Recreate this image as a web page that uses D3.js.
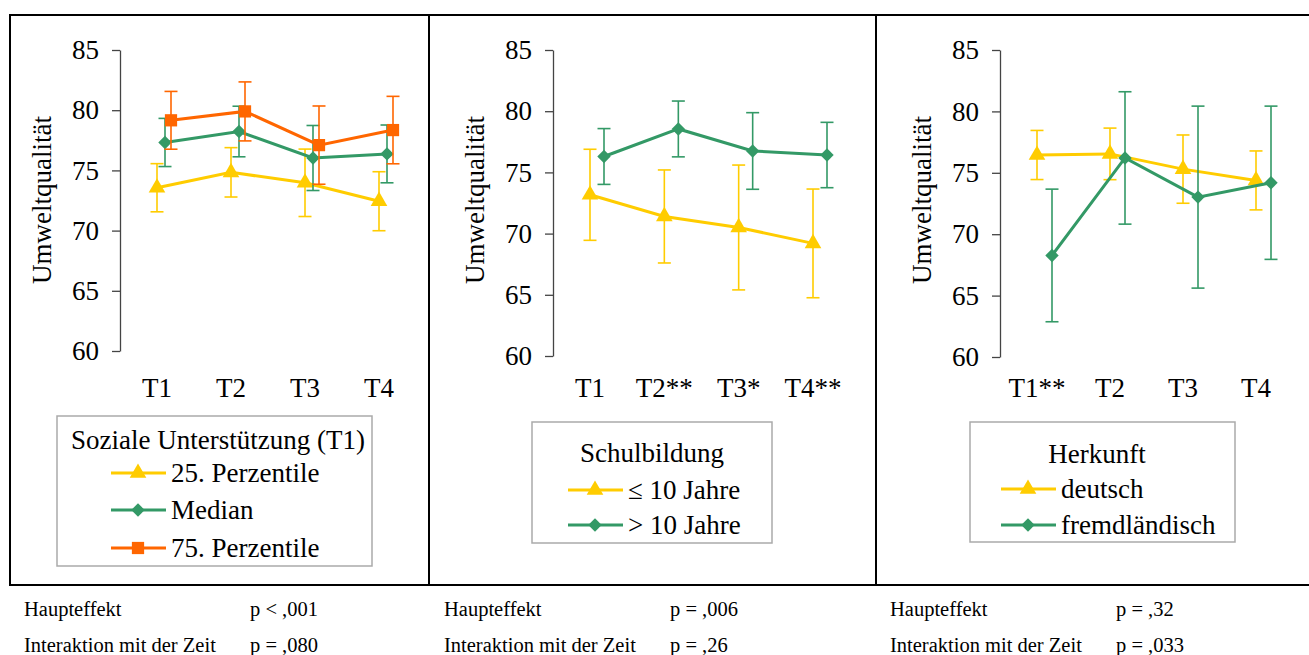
<!DOCTYPE html>
<html>
<head>
<meta charset="utf-8">
<script src="https://cdn.jsdelivr.net/npm/d3@7"></script>
<style>
  body { margin: 0; background: #fff; }
  svg { display: block; }
</style>
</head>
<body>
<svg id="svg-container" width="1309" height="655"></svg>
<script>
// values
const yTicks = [60, 65, 70, 75, 80, 85];

const catsSozial = ['T1', 'T2', 'T3', 'T4'];
const sozial25 = [73.56, 74.84, 73.97, 72.44];
const sozial25Err = [2.0, 2.05, 2.8, 2.45];
const sozialMedian = [77.32, 78.23, 76.03, 76.37];
const sozialMedianErr = [2.0, 2.1, 2.7, 2.4];
const sozial75 = [79.16, 79.9, 77.1, 78.35];
const sozial75Err = [2.4, 2.45, 3.25, 2.8];

const catsSchul = ['T1', 'T2**', 'T3*', 'T4**'];
const schulLow = [73.17, 71.4, 70.5, 69.2];
const schulLowErr = [3.72, 3.8, 5.1, 4.44];
const schulHigh = [76.3, 78.55, 76.75, 76.42];
const schulHighErr = [2.28, 2.28, 3.13, 2.67];

const catsHerkunft = ['T1**', 'T2', 'T3', 'T4'];
const herkDeutsch = [76.45, 76.54, 75.3, 74.38];
const herkDeutschErr = [2.0, 2.1, 2.78, 2.4];
const herkFremd = [68.27, 76.21, 73.02, 74.19];
const herkFremdErr = [5.4, 5.39, 7.41, 6.24];

const statsSozial = ['p < ,001', 'p = ,080'];
const statsSchul = ['p = ,006', 'p = ,26'];
const statsHerkunft = ['p = ,32', 'p = ,033'];

const YELLOW = '#ffcc00';
const GREEN = '#339966';
const ORANGE = '#ff6600';
const FONT = '"Liberation Serif", "Times New Roman", serif';

const svg = d3.select('#svg-container').attr('font-family', FONT);

const chartFuncs = {
  text(g, x, y, str, size) {
    return g.append('text')
      .attr('x', x).attr('y', y)
      .attr('font-family', FONT)
      .attr('font-size', size)
      .attr('fill', '#000')
      .text(str);
  },

  marker(g, type, x, y, color) {
    let sym, size, rot = 0;
    if (type === 'triangle') { sym = d3.symbolTriangle; size = 120; }
    else if (type === 'diamond') { sym = d3.symbolSquare; size = 90; rot = 45; }
    else { sym = d3.symbolSquare; size = 150; }
    g.append('path')
      .attr('d', d3.symbol().type(sym).size(size)())
      .attr('transform', `translate(${x},${y}) rotate(${rot})`)
      .attr('fill', color);
  },

  renderPanel(p) {
    const g = svg.append('g');
    const y = d3.scaleLinear().domain([60, 85]).range([p.yBottom, 50]);
    const x = d3.scalePoint().domain(p.cats).range(p.xRange);

    const axis = g.append('g')
      .attr('transform', `translate(${p.axisX},0)`)
      .call(d3.axisLeft(y).tickValues(yTicks).tickSize(8).tickPadding(13).tickSizeOuter(0));
    axis.attr('font-family', FONT);
    axis.select('.domain').attr('stroke', '#444').attr('stroke-width', 1.3);
    axis.selectAll('.tick line').attr('stroke', '#444').attr('stroke-width', 1.3);
    axis.selectAll('.tick text')
      .attr('font-family', FONT).attr('font-size', 27).attr('fill', '#000');

    p.cats.forEach(c => {
      chartFuncs.text(g, x(c), 397, c, 27).attr('text-anchor', 'middle');
    });

    chartFuncs.text(g, 0, 0, 'Umweltqualität', 27)
      .attr('transform', `translate(${p.labelX},200) rotate(-90)`)
      .attr('text-anchor', 'middle');

    p.series.forEach(s => {
      const pts = p.cats.map((c, i) => ({ x: x(c) + s.dx, v: s.values[i], e: s.err[i] }));
      const eb = g.append('g').attr('stroke', s.color).attr('stroke-width', 1.6);
      pts.forEach(d => {
        eb.append('line').attr('x1', d.x).attr('x2', d.x).attr('y1', y(d.v - d.e)).attr('y2', y(d.v + d.e));
        eb.append('line').attr('x1', d.x - 6.5).attr('x2', d.x + 6.5).attr('y1', y(d.v - d.e)).attr('y2', y(d.v - d.e));
        eb.append('line').attr('x1', d.x - 6.5).attr('x2', d.x + 6.5).attr('y1', y(d.v + d.e)).attr('y2', y(d.v + d.e));
      });
      g.append('path')
        .datum(pts)
        .attr('d', d3.line().x(d => d.x).y(d => y(d.v)))
        .attr('fill', 'none')
        .attr('stroke', s.color)
        .attr('stroke-width', 3);
      pts.forEach(d => chartFuncs.marker(g, s.marker, d.x, y(d.v), s.color));
    });

    // legend
    const L = p.legend;
    g.append('rect')
      .attr('x', L.x).attr('y', L.y).attr('width', L.w).attr('height', L.h)
      .attr('fill', '#fff').attr('stroke', '#aaa').attr('stroke-width', 1.5);
    chartFuncs.text(g, L.titleX, L.titleY, L.title, 27).attr('text-anchor', 'middle');
    p.series.forEach((s, i) => {
      const cy = L.itemY[i];
      g.append('line')
        .attr('x1', L.lineX).attr('x2', L.lineX + 55).attr('y1', cy).attr('y2', cy)
        .attr('stroke', s.color).attr('stroke-width', 3);
      chartFuncs.marker(g, s.marker, L.lineX + 27, cy, s.color);
      chartFuncs.text(g, L.lineX + 60, cy + 9, s.name, 27);
    });

    // stats under the frame
    chartFuncs.text(g, p.statX, 616, 'Haupteffekt', 20.5);
    chartFuncs.text(g, p.statX + 226, 616, p.stats[0], 20.5);
    chartFuncs.text(g, p.statX, 652, 'Interaktion mit der Zeit', 20.5);
    chartFuncs.text(g, p.statX + 226, 652, p.stats[1], 20.5);
  },

  renderFrame() {
    const f = svg.append('g').attr('stroke', '#000').attr('stroke-width', 2).attr('fill', 'none');
    f.append('path').attr('d', 'M1312,15 H10 V585 H1312');
    f.append('line').attr('x1', 429).attr('x2', 429).attr('y1', 15).attr('y2', 585);
    f.append('line').attr('x1', 876).attr('x2', 876).attr('y1', 15).attr('y2', 585);
  }
};

chartFuncs.renderFrame();

chartFuncs.renderPanel({
  cats: catsSozial, axisX: 120, yBottom: 351, xRange: [157, 379], labelX: 51, statX: 24,
  stats: statsSozial,
  series: [
    { name: '25. Perzentile', values: sozial25, err: sozial25Err, color: YELLOW, marker: 'triangle', dx: 0 },
    { name: 'Median', values: sozialMedian, err: sozialMedianErr, color: GREEN, marker: 'diamond', dx: 8 },
    { name: '75. Perzentile', values: sozial75, err: sozial75Err, color: ORANGE, marker: 'square', dx: 14 }
  ],
  legend: { x: 57, y: 416, w: 315, h: 150, title: 'Soziale Unterstützung (T1)', titleX: 218, titleY: 449,
            lineX: 111, itemY: [473, 510, 548] }
});

chartFuncs.renderPanel({
  cats: catsSchul, axisX: 553, yBottom: 356, xRange: [590, 813], labelX: 484, statX: 444,
  stats: statsSchul,
  series: [
    { name: '≤ 10 Jahre', values: schulLow, err: schulLowErr, color: YELLOW, marker: 'triangle', dx: 0 },
    { name: '> 10 Jahre', values: schulHigh, err: schulHighErr, color: GREEN, marker: 'diamond', dx: 14 }
  ],
  legend: { x: 532, y: 422, w: 240, h: 121, title: 'Schulbildung', titleX: 652, titleY: 462,
            lineX: 568, itemY: [490, 525] }
});

chartFuncs.renderPanel({
  cats: catsHerkunft, axisX: 1000, yBottom: 357, xRange: [1037, 1256], labelX: 931, statX: 890,
  stats: statsHerkunft,
  series: [
    { name: 'deutsch', values: herkDeutsch, err: herkDeutschErr, color: YELLOW, marker: 'triangle', dx: 0 },
    { name: 'fremdländisch', values: herkFremd, err: herkFremdErr, color: GREEN, marker: 'diamond', dx: 15 }
  ],
  legend: { x: 970, y: 422, w: 265, h: 120, title: 'Herkunft', titleX: 1097, titleY: 463,
            lineX: 1001, itemY: [489, 525] }
});
</script>
</body>
</html>
